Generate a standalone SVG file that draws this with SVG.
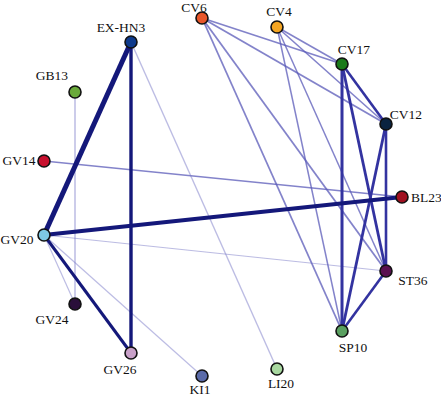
<svg xmlns="http://www.w3.org/2000/svg" width="441" height="398" viewBox="0 0 441 398">
<style>
.n{stroke:#111;stroke-width:1.6}
.t{font-family:"Liberation Serif","Times New Roman",serif;font-size:13.5px;fill:#111}
.e1{stroke:#14187a;fill:none}
.e2{stroke:#3333a0;fill:none}
.e3{stroke:#5a5ab8;stroke-opacity:0.75;fill:none}
.e4{stroke:#7a7ac8;stroke-opacity:0.5;fill:none}
</style>
<rect width="441" height="398" fill="#fff"/>
<g id="connectors">
<line class="e4" x1="75" y1="92" x2="75" y2="304" stroke-width="1.5"/>
<line class="e3" x1="44" y1="161" x2="402" y2="197" stroke-width="1.6"/>
<line class="e4" x1="131" y1="42" x2="277" y2="369" stroke-width="1.4"/>
<line class="e4" x1="44" y1="235" x2="386" y2="271" stroke-width="1.2"/>
<line class="e4" x1="44" y1="235" x2="75" y2="304" stroke-width="1.2"/>
<line class="e4" x1="44" y1="235" x2="202" y2="376" stroke-width="1.2"/>
<line class="e3" x1="202" y1="18" x2="342" y2="64" stroke-width="1.8"/>
<line class="e3" x1="202" y1="18" x2="386" y2="124" stroke-width="1.8"/>
<line class="e3" x1="202" y1="18" x2="342" y2="331" stroke-width="1.8"/>
<line class="e3" x1="202" y1="18" x2="386" y2="271" stroke-width="1.8"/>
<line class="e3" x1="277" y1="27" x2="342" y2="64" stroke-width="1.6"/>
<line class="e3" x1="277" y1="27" x2="386" y2="124" stroke-width="1.6"/>
<line class="e3" x1="277" y1="27" x2="342" y2="331" stroke-width="1.5"/>
<line class="e3" x1="277" y1="27" x2="386" y2="271" stroke-width="1.5"/>
<line class="e2" x1="342" y1="64" x2="386" y2="124" stroke-width="2.6"/>
<line class="e2" x1="342" y1="64" x2="342" y2="331" stroke-width="3"/>
<line class="e2" x1="342" y1="64" x2="386" y2="271" stroke-width="2.8"/>
<line class="e2" x1="386" y1="124" x2="342" y2="331" stroke-width="2.8"/>
<line class="e2" x1="386" y1="124" x2="386" y2="271" stroke-width="2.6"/>
<line class="e2" x1="386" y1="271" x2="342" y2="331" stroke-width="2.6"/>
<line class="e1" x1="44" y1="235" x2="402" y2="197" stroke-width="4"/>
<line class="e1" x1="131" y1="42" x2="131" y2="353" stroke-width="3.4"/>
<line class="e1" x1="44" y1="235" x2="131" y2="353" stroke-width="3"/>
<line class="e1" x1="131" y1="42" x2="44" y2="235" stroke-width="5"/>
</g>
<g id="EX-HN3"><circle class="n" cx="131" cy="42" r="6" fill="#0e3a8c"/><text class="t" x="121" y="32" text-anchor="middle">EX-HN3</text></g>
<g id="CV6"><circle class="n" cx="202" cy="18" r="6" fill="#e8562a"/><text class="t" x="194" y="12" text-anchor="middle">CV6</text></g>
<g id="GB13"><circle class="n" cx="75" cy="92" r="6" fill="#6aaa3a"/><text class="t" x="52" y="80" text-anchor="middle">GB13</text></g>
<g id="GV14"><circle class="n" cx="44" cy="161" r="6" fill="#c8102e"/><text class="t" x="19" y="165" text-anchor="middle">GV14</text></g>
<g id="CV4"><circle class="n" cx="277" cy="27" r="6" fill="#f5a623"/><text class="t" x="279" y="16" text-anchor="middle">CV4</text></g>
<g id="CV17"><circle class="n" cx="342" cy="64" r="6" fill="#1a7a1a"/><text class="t" x="354" y="54" text-anchor="middle">CV17</text></g>
<g id="CV12"><circle class="n" cx="386" cy="124" r="6" fill="#0a2340"/><text class="t" x="406" y="119" text-anchor="middle">CV12</text></g>
<g id="BL23"><circle class="n" cx="402" cy="197" r="6" fill="#a01020"/><text class="t" x="411" y="202">BL23</text></g>
<g id="GV20"><circle class="n" cx="44" cy="235" r="6" fill="#7ec8e3"/><text class="t" x="17" y="244" text-anchor="middle">GV20</text></g>
<g id="GV24"><circle class="n" cx="75" cy="304" r="6" fill="#2a0f3a"/><text class="t" x="52" y="324" text-anchor="middle">GV24</text></g>
<g id="GV26"><circle class="n" cx="131" cy="353" r="6" fill="#c8a0c8"/><text class="t" x="120" y="374" text-anchor="middle">GV26</text></g>
<g id="KI1"><circle class="n" cx="202" cy="376" r="6" fill="#5a6aa8"/><text class="t" x="200" y="394" text-anchor="middle">KI1</text></g>
<g id="ST36"><circle class="n" cx="386" cy="271" r="6" fill="#5a1050"/><text class="t" x="413" y="285" text-anchor="middle">ST36</text></g>
<g id="SP10"><circle class="n" cx="342" cy="331" r="6" fill="#5aa060"/><text class="t" x="353" y="352" text-anchor="middle">SP10</text></g>
<g id="LI20"><circle class="n" cx="277" cy="369" r="6" fill="#a8d8a0"/><text class="t" x="281" y="388" text-anchor="middle">LI20</text></g>
</svg>
